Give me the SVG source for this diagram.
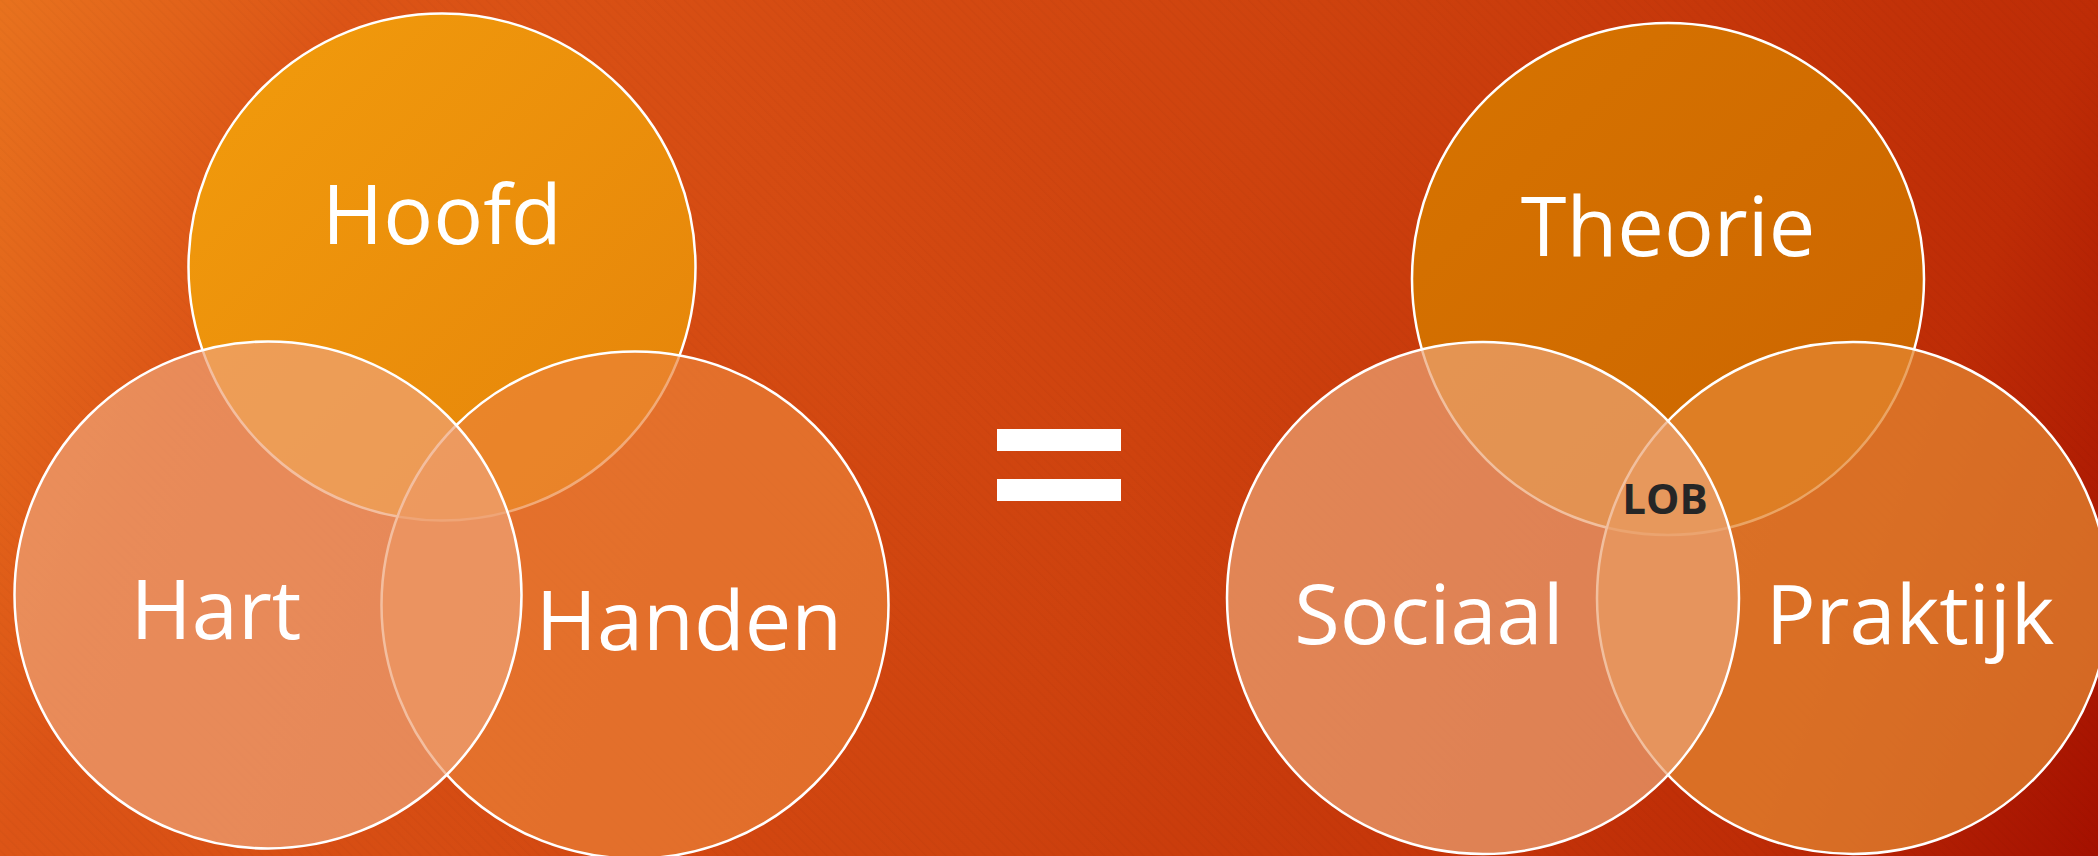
<svg xmlns="http://www.w3.org/2000/svg" width="2098" height="856" viewBox="0 0 2098 856">
<defs>
<linearGradient id="bg" gradientUnits="userSpaceOnUse" x1="0" y1="0" x2="2098" y2="856">
<stop offset="0" stop-color="#E8721E"/>
<stop offset="0.143" stop-color="#DC5416"/>
<stop offset="0.54" stop-color="#CE420E"/>
<stop offset="0.857" stop-color="#BE2C06"/>
<stop offset="1" stop-color="#A41000"/>
</linearGradient>
<pattern id="stripes" width="7" height="7" patternUnits="userSpaceOnUse" patternTransform="rotate(-45)">
<line x1="0" y1="0" x2="0" y2="7" stroke="#000000" stroke-opacity="0.025" stroke-width="3"/>
</pattern>
<linearGradient id="gHoofd" x1="0" y1="0" x2="1" y2="1">
<stop offset="0" stop-color="#F29C0C"/>
<stop offset="1" stop-color="#E5830A"/>
</linearGradient>
<linearGradient id="gTheorie" x1="0" y1="0" x2="1" y2="1">
<stop offset="0" stop-color="#D77400"/>
<stop offset="1" stop-color="#CB6400"/>
</linearGradient>
<style>
.c{stroke:#ffffff;stroke-width:2.5}
.lbl{font-family:"Open Sans","Noto Sans","Liberation Sans",sans-serif;font-size:83px;fill:#ffffff;text-anchor:middle}
.lob{font-family:"Open Sans","Noto Sans","Liberation Sans",sans-serif;font-size:42px;font-weight:bold;fill:#262626;text-anchor:middle}
</style>
</defs>
<rect width="2098" height="856" fill="url(#bg)"/>
<rect width="2098" height="856" fill="url(#stripes)"/>
<g id="connectors"/>
<g id="hoofd">
<circle class="c" cx="442" cy="267" r="253.5" fill="url(#gHoofd)"/>
</g>
<g id="handen">
<circle class="c" cx="635" cy="605" r="253.5" fill="#EA8238" fill-opacity="0.68"/>
</g>
<g id="hart">
<circle class="c" cx="268" cy="595" r="253.5" fill="#EEA276" fill-opacity="0.7"/>
</g>
<g id="theorie">
<circle class="c" cx="1668" cy="279" r="256" fill="url(#gTheorie)"/>
</g>
<g id="praktijk">
<circle class="c" cx="1853" cy="598" r="256" fill="#E38630" fill-opacity="0.75"/>
</g>
<g id="sociaal">
<circle class="c" cx="1483" cy="598" r="256" fill="#EBA475" fill-opacity="0.7"/>
</g>
<g id="labels">
<text class="lbl" x="442" y="244">Hoofd</text>
<text class="lbl" x="216" y="639">Hart</text>
<text class="lbl" x="689" y="650">Handen</text>
<text class="lbl" x="1668" y="256">Theorie</text>
<text class="lbl" x="1429" y="644">Sociaal</text>
<text class="lbl" x="1910" y="644">Praktijk</text>
<text class="lob" x="1665" y="514">LOB</text>
</g>
<g id="equals" fill="#ffffff">
<rect x="997" y="429" width="124" height="22"/>
<rect x="997" y="479" width="124" height="22"/>
</g>
</svg>
